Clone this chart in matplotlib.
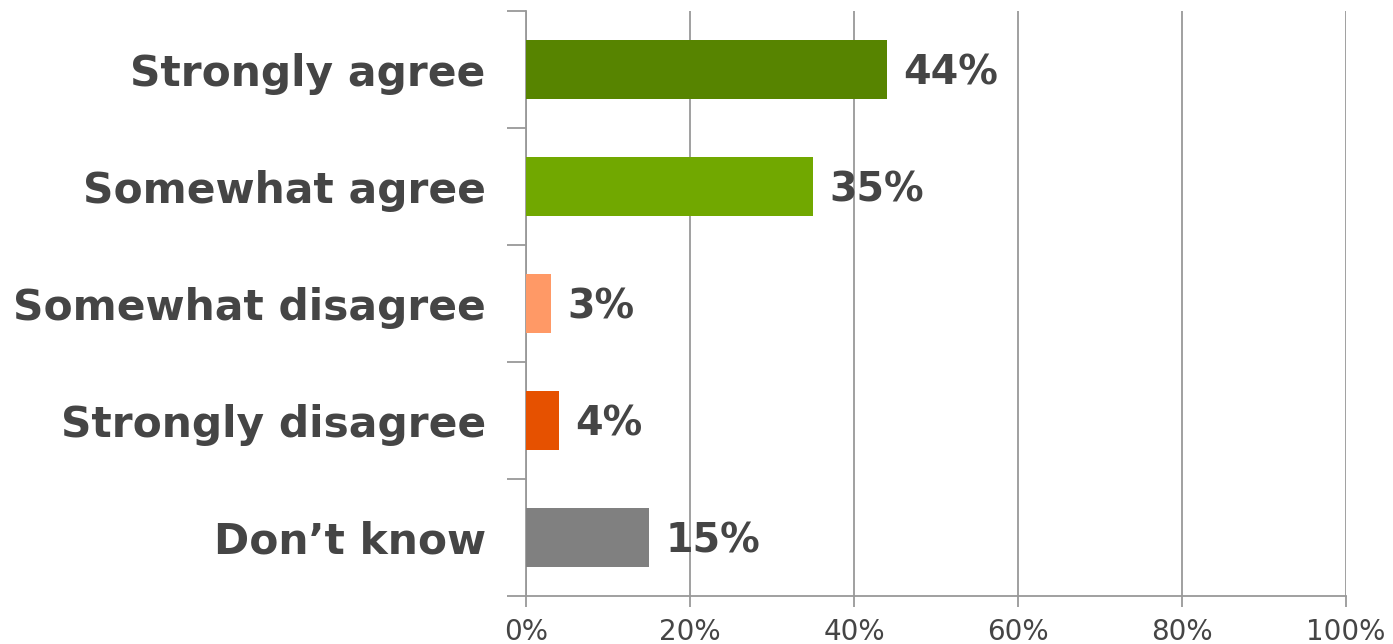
import matplotlib
matplotlib.use('Agg')
import matplotlib.pyplot as plt
from matplotlib.ticker import FuncFormatter

# data, top to bottom
categories = ['Strongly agree', 'Somewhat agree', 'Somewhat disagree', 'Strongly disagree', 'Don\u2019t know']
values = [44, 35, 3, 4, 15]
colors = ['#578400', '#71A800', '#FF9966', '#E65100', '#808080']
xticks = [0, 20, 40, 60, 80, 100]

txt = '#454545'
grid = '#999999'

fig = plt.figure(figsize=(13.93, 6.44), dpi=100)
ax = fig.add_axes([526/1393, 48/644, 820/1393, 585/644])

pos = list(range(len(categories)))
ax.barh(pos, values, height=0.5, color=colors, zorder=3)
for p, v in zip(pos, values):
    ax.text(v + 2, p + 0.03, f'{v}%', va='center', ha='left', fontsize=28.5,
            fontweight='bold', color=txt, zorder=4)

ax.set_xlim(0, 100)
ax.set_ylim(len(categories) - 0.5, -0.5)
ax.set_xticks(xticks)
ax.xaxis.set_major_formatter(FuncFormatter(lambda x, _: f'{x:.0f}%'))
ax.grid(axis='x', color=grid, linewidth=1.3, zorder=0)

# category boundaries as ticks, labels in between
ax.set_yticks([i - 0.5 for i in range(len(categories) + 1)])
ax.set_yticklabels([])
ax.set_yticks(pos, minor=True)
ax.set_yticklabels(categories, minor=True, fontsize=30.5, fontweight='bold', color=txt)
ax.tick_params(axis='y', which='minor', length=0, pad=29)
ax.tick_params(axis='y', which='major', length=14, width=1.3, color=grid)
ax.tick_params(axis='x', length=8, width=1.3, color=grid, labelsize=20,
               labelcolor=txt, pad=8)

for s in ['top', 'right']:
    ax.spines[s].set_visible(False)
for s in ['left', 'bottom']:
    ax.spines[s].set_color(grid)
    ax.spines[s].set_linewidth(1.3)

fig.savefig('out.png', dpi=100)
